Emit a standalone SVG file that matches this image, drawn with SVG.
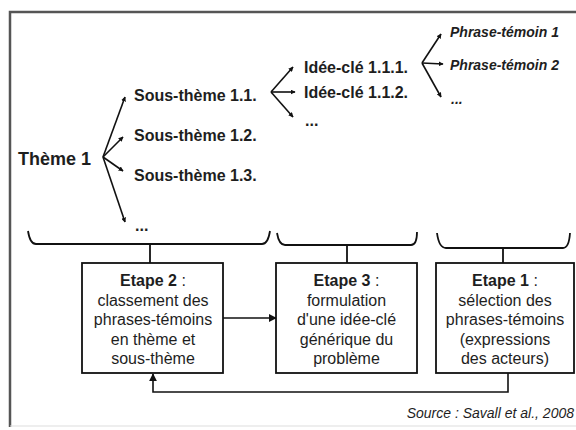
<svg xmlns="http://www.w3.org/2000/svg" width="576" height="430" viewBox="0 0 576 430">
<defs>
<style>
.t{font-family:"Liberation Sans",Arial,sans-serif;fill:#1e1e1e}
.b{font-weight:bold;font-size:16px}
.p{font-style:italic;font-weight:bold;font-size:14px}
.n{font-size:16px}
.c{text-anchor:middle}
.ln{stroke:#111;stroke-width:1.6;fill:none}
.br{stroke:#111;stroke-width:1.8;fill:none}
.box{fill:#fff;stroke:#111;stroke-width:1.8}
</style>
<marker id="dot" viewBox="0 0 8 8" refX="7" refY="4" markerWidth="5" markerHeight="5" markerUnits="userSpaceOnUse" orient="auto"><path d="M0,0 L8,4 L0,8 Z" fill="#111"/></marker>
<marker id="ar" viewBox="0 0 10 10" refX="9" refY="5" markerWidth="8" markerHeight="8" markerUnits="userSpaceOnUse" orient="auto"><path d="M0,0 L10,5 L0,10 Z" fill="#111"/></marker>
</defs>
<rect width="576" height="430" fill="#fff"/>
<g id="frame">
<path d="M10,427 V12 H578" fill="none" stroke="#555" stroke-width="2.5"/>
<line x1="10" y1="426" x2="576" y2="426" stroke="#ddd" stroke-width="1"/>
</g>
<g id="connectors">
<path class="ln" marker-end="url(#dot)" d="M103,157 L125,97"/>
<path class="ln" marker-end="url(#dot)" d="M103,157 L123,137"/>
<path class="ln" marker-end="url(#dot)" d="M103,157 L123,171"/>
<path class="ln" marker-end="url(#dot)" d="M103,157 L125,222"/>
<path class="ln" marker-end="url(#dot)" d="M271,92 L293,67"/>
<path class="ln" marker-end="url(#dot)" d="M271,92 L295,92"/>
<path class="ln" marker-end="url(#dot)" d="M271,92 L293,117"/>
<path class="ln" marker-end="url(#dot)" d="M422,63 L441,34"/>
<path class="ln" marker-end="url(#dot)" d="M422,63 L443,64"/>
<path class="ln" marker-end="url(#dot)" d="M422,63 L441,97"/>
<path class="br" d="M28,231 Q30,244 36,244 H262 Q268,244 270,231"/>
<path class="br" d="M150,244 V263"/>
<path class="br" d="M277,233 Q279,245 285,245 H411 Q417,245 417,232"/>
<path class="br" d="M347,245 V263"/>
<path class="br" d="M437,233 Q439,248 446,248 H563 Q569,248 570,233"/>
<path class="br" d="M503,248 V263" stroke-width="2.5"/>
<path class="ln" marker-end="url(#ar)" d="M223,318 H276"/>
<path class="ln" marker-end="url(#ar)" d="M508,373 V392 H153 V374"/>
</g>
<g id="theme1"><text class="t b" x="18" y="165" style="font-size:18px">Thème 1</text></g>
<g id="st11"><text class="t b" x="134" y="101">Sous-thème 1.1.</text></g>
<g id="st12"><text class="t b" x="134" y="141">Sous-thème 1.2.</text></g>
<g id="st13"><text class="t b" x="134" y="181">Sous-thème 1.3.</text></g>
<g id="st-more"><text class="t b" x="135" y="231">...</text></g>
<g id="ic111"><text class="t b" x="304" y="73">Idée-clé 1.1.1.</text></g>
<g id="ic112"><text class="t b" x="304" y="98">Idée-clé 1.1.2.</text></g>
<g id="ic-more"><text class="t b" x="305" y="126">...</text></g>
<g id="pt1"><text class="t p" x="450" y="37">Phrase-témoin 1</text></g>
<g id="pt2"><text class="t p" x="450" y="70">Phrase-témoin 2</text></g>
<g id="pt-more"><text class="t p" x="451" y="104">...</text></g>
<g id="etape2">
<rect class="box" x="82" y="263" width="141" height="110"/>
<text class="t n c" x="153" y="286"><tspan font-weight="bold">Etape 2</tspan> :</text>
<text class="t n c" x="153" y="305.5">classement des</text>
<text class="t n c" x="153" y="325">phrases-témoins</text>
<text class="t n c" x="153" y="344.5">en thème et</text>
<text class="t n c" x="153" y="364">sous-thème</text>
</g>
<g id="etape3">
<rect class="box" x="276" y="263" width="141" height="110"/>
<text class="t n c" x="346.5" y="286"><tspan font-weight="bold">Etape 3</tspan> :</text>
<text class="t n c" x="346.5" y="305.5">formulation</text>
<text class="t n c" x="346.5" y="325">d'une idée-clé</text>
<text class="t n c" x="346.5" y="344.5">générique du</text>
<text class="t n c" x="346.5" y="364">problème</text>
</g>
<g id="etape1">
<rect class="box" x="436" y="263" width="138" height="110"/>
<text class="t n c" x="505" y="286"><tspan font-weight="bold">Etape 1</tspan> :</text>
<text class="t n c" x="505" y="305.5">sélection des</text>
<text class="t n c" x="505" y="325">phrases-témoins</text>
<text class="t n c" x="505" y="344.5">(expressions</text>
<text class="t n c" x="505" y="364">des acteurs)</text>
</g>
<g id="source"><text class="t" x="574" y="418" text-anchor="end" style="font-style:italic;font-size:14px">Source : Savall et al., 2008</text></g>
</svg>
